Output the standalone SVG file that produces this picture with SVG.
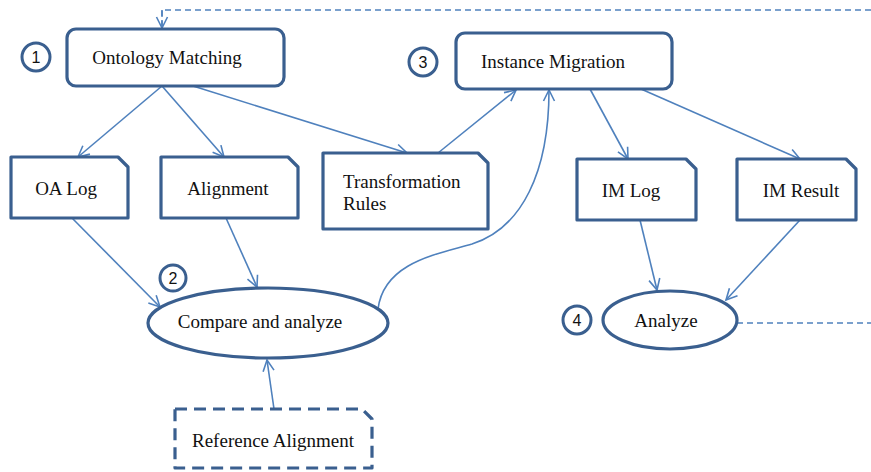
<svg xmlns="http://www.w3.org/2000/svg" width="871" height="472" viewBox="0 0 871 472">
  <style>
    .box { fill: #ffffff; stroke: #3A5F8F; stroke-width: 3.2; stroke-linejoin: round; }
    .dash { stroke-dasharray: 12 7; }
    .num { fill: #ffffff; stroke: #3A5F8F; stroke-width: 3; }
    text.lbl { font-family: 'Liberation Serif', 'Times New Roman', serif; font-size: 19px; fill: #111111; }
    text.numtxt { font-family: 'Liberation Sans', sans-serif; font-size: 16px; fill: #111111; text-anchor: middle; }
    .edge { fill: none; stroke: #4F81BD; stroke-width: 1.6; marker-end: url(#arr); }
    .edge-d { fill: none; stroke: #4F81BD; stroke-width: 1.4; stroke-dasharray: 6 4; }
  </style>
  <defs>
    <marker id="arr" markerUnits="userSpaceOnUse" markerWidth="14" markerHeight="14" viewBox="0 0 14 14" refX="12" refY="7" orient="auto">
      <path d="M1,1.5 L12,7 L1,12.5" fill="none" stroke="#4F81BD" stroke-width="1.6"/>
    </marker>
  </defs>

  <rect width="871" height="472" fill="#ffffff"/>

  <!-- connectors -->
  <g id="connectors">
    <path class="edge-d" d="M871,10 L162,10 L162,26"/>
    <path class="edge" d="M162,10 L162,28" stroke-dasharray="6 4"/>
    <path class="edge-d" d="M737,323 L871,323"/>
    <path class="edge" d="M162,86 L78,157"/>
    <path class="edge" d="M162,86 L224,157"/>
    <path class="edge" d="M193,86 L407,153"/>
    <path class="edge" d="M438,153 L516,90"/>
    <path class="edge" d="M378,309 C384,262 438,254 472,244 C522,228 549,172 549,90"/>
    <path class="edge" d="M590,89 L628,159"/>
    <path class="edge" d="M641,89 L800,159"/>
    <path class="edge" d="M72,218 L160,307"/>
    <path class="edge" d="M226,218 L257,287"/>
    <path class="edge" d="M274,409 L267,360"/>
    <path class="edge" d="M640,220 L657,290"/>
    <path class="edge" d="M800,220 L726,300"/>
  </g>

  <g id="ontology-matching">
    <rect class="box" x="67" y="29" width="217" height="57" rx="9"/>
    <text class="lbl" x="167" y="64" text-anchor="middle">Ontology Matching</text>
  </g>
  <g id="num-1">
    <circle class="num" cx="36" cy="57" r="14"/>
    <text class="numtxt" x="36" y="63">1</text>
  </g>

  <g id="oa-log">
    <path class="box" d="M11,157 L118,157 L128,167 L128,218 L11,218 Z"/>
    <text class="lbl" x="66" y="195" text-anchor="middle">OA Log</text>
  </g>

  <g id="alignment">
    <path class="box" d="M161,157 L288,157 L298,167 L298,218 L161,218 Z"/>
    <text class="lbl" x="228" y="195" text-anchor="middle">Alignment</text>
  </g>

  <g id="transformation-rules">
    <path class="box" d="M323,153 L478,153 L488,163 L488,229 L323,229 Z"/>
    <text class="lbl" x="343" y="188">Transformation</text>
    <text class="lbl" x="343" y="210">Rules</text>
  </g>

  <g id="instance-migration">
    <rect class="box" x="456" y="33" width="216" height="56" rx="9"/>
    <text class="lbl" x="481" y="68">Instance Migration</text>
  </g>
  <g id="num-3">
    <circle class="num" cx="423" cy="62" r="14"/>
    <text class="numtxt" x="423" y="68">3</text>
  </g>

  <g id="im-log">
    <path class="box" d="M577,159 L686,159 L696,169 L696,220 L577,220 Z"/>
    <text class="lbl" x="631" y="197" text-anchor="middle">IM Log</text>
  </g>

  <g id="im-result">
    <path class="box" d="M737,159 L846,159 L856,169 L856,220 L737,220 Z"/>
    <text class="lbl" x="801" y="197" text-anchor="middle">IM Result</text>
  </g>

  <g id="compare-analyze">
    <ellipse class="box" cx="268" cy="323" rx="120" ry="35"/>
    <text class="lbl" x="260" y="328" text-anchor="middle">Compare and analyze</text>
  </g>
  <g id="num-2">
    <circle class="num" cx="173" cy="278" r="13"/>
    <text class="numtxt" x="173" y="284">2</text>
  </g>

  <g id="reference-alignment">
    <path class="box dash" d="M175,409 L362,409 L372,419 L372,468 L175,468 Z"/>
    <text class="lbl" x="273" y="447" text-anchor="middle">Reference Alignment</text>
  </g>

  <g id="analyze">
    <ellipse class="box" cx="670" cy="320" rx="67" ry="29"/>
    <text class="lbl" x="666" y="327" text-anchor="middle">Analyze</text>
  </g>
  <g id="num-4">
    <circle class="num" cx="577" cy="320" r="14"/>
    <text class="numtxt" x="577" y="326">4</text>
  </g>
</svg>
